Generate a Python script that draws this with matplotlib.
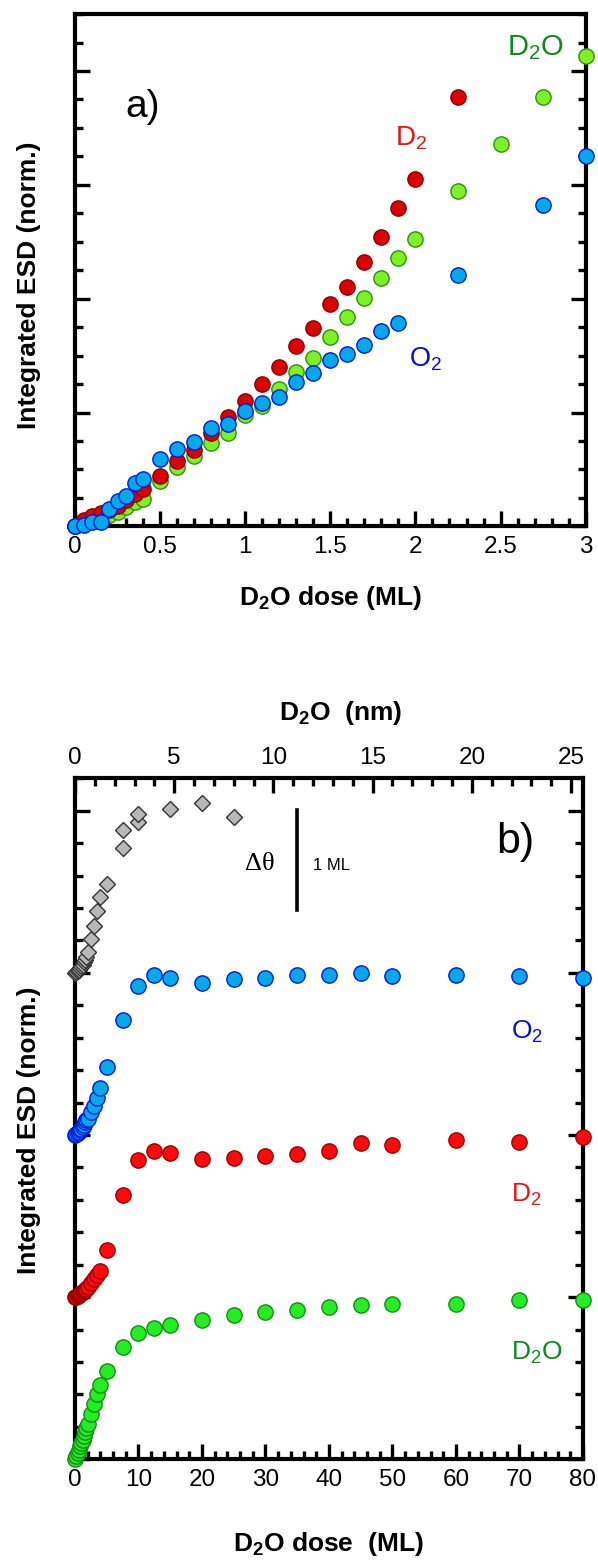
import matplotlib
matplotlib.use('Agg')
import matplotlib.pyplot as plt
from matplotlib.ticker import MultipleLocator, NullFormatter

plt.rcParams['font.family'] = ['Liberation Sans', 'DejaVu Sans']
plt.rcParams['mathtext.fontset'] = 'custom'
plt.rcParams['mathtext.rm'] = 'Liberation Sans'
plt.rcParams['mathtext.it'] = 'Liberation Sans:italic'
plt.rcParams['mathtext.bf'] = 'Liberation Sans:bold'

# ---- panel a: first 3 ML of D2O ----
early = [0, 0.05, 0.1, 0.15, 0.2, 0.25, 0.3, 0.35, 0.4,
         0.5, 0.6, 0.7, 0.8, 0.9, 1.0, 1.1, 1.2, 1.3, 1.4, 1.5, 1.6, 1.7, 1.8, 1.9]

dose_a_d2o = early + [2.0, 2.25, 2.5, 2.75, 3.0]
esd_a_d2o = [0.0, 0.02, 0.05, 0.07, 0.10, 0.13, 0.17, 0.21, 0.24,
             0.40, 0.52, 0.62, 0.73, 0.82, 0.98, 1.06, 1.21, 1.36, 1.48, 1.66, 1.84, 2.01, 2.18, 2.36,
             2.52, 2.95, 3.36, 3.77, 4.13]

dose_a_d2 = early + [2.0, 2.25]
esd_a_d2 = [0.0, 0.06, 0.09, 0.12, 0.14, 0.18, 0.23, 0.28, 0.33,
            0.44, 0.57, 0.67, 0.82, 0.96, 1.10, 1.25, 1.40, 1.58, 1.74, 1.95, 2.10, 2.32, 2.54, 2.80,
            3.05, 3.77]

dose_a_o2 = early + [2.25, 2.75, 3.0]
esd_a_o2 = [0.0, 0.01, 0.04, 0.04, 0.15, 0.22, 0.27, 0.38, 0.42,
            0.59, 0.68, 0.74, 0.86, 0.90, 1.01, 1.08, 1.14, 1.27, 1.35, 1.46, 1.51, 1.59, 1.72, 1.79,
            2.21, 2.82, 3.25]

# ---- panel b: up to 80 ML, curves offset by 1 ----
dose_b = [0, 0.2, 0.4, 0.6, 0.8, 1.0, 1.2, 1.4, 1.6, 1.8, 2.0, 2.5, 3.0, 3.5, 4.0,
          5, 7.5, 10, 12.5, 15, 20, 25, 30, 35, 40, 45, 50, 60, 70, 80]
esd_b_d2o = [0.0, 0.02, 0.04, 0.06, 0.08, 0.10, 0.12, 0.145, 0.17, 0.195, 0.22, 0.28, 0.34, 0.40, 0.46,
             0.545, 0.69, 0.78, 0.81, 0.83, 0.86, 0.89, 0.91, 0.92, 0.94, 0.95, 0.96, 0.955, 0.98, 0.98]
esd_b_d2 = [1.0, 1.003, 1.007, 1.012, 1.017, 1.023, 1.03, 1.037, 1.045, 1.053, 1.062, 1.085, 1.11, 1.135, 1.16,
            1.29, 1.63, 1.845, 1.90, 1.89, 1.855, 1.86, 1.87, 1.885, 1.90, 1.95, 1.94, 1.97, 1.96, 1.99]
esd_b_o2 = [2.0, 2.005, 2.01, 2.02, 2.03, 2.04, 2.05, 2.065, 2.08, 2.09, 2.10, 2.14, 2.18, 2.23, 2.29,
            2.42, 2.71, 2.92, 2.99, 2.97, 2.94, 2.96, 2.97, 2.99, 2.99, 3.00, 2.98, 2.99, 2.98, 2.97]

# coverage change (diamonds)
dose_b_theta = [0, 0.2, 0.4, 0.6, 0.8, 1.0, 1.2, 1.4, 1.6, 1.8, 2.0, 2.5, 3.0, 3.5, 4.0,
                5, 7.5, 7.5, 10, 10, 15, 20, 25]
theta_b = [3.0, 3.005, 3.01, 3.02, 3.03, 3.04, 3.05, 3.065, 3.08, 3.10, 3.13, 3.21, 3.29, 3.38, 3.47,
           3.55, 3.77, 3.88, 3.93, 3.98, 4.01, 4.05, 3.96]

ML_TO_NM = 0.32

fig = plt.figure(figsize=(5.98, 15.66), dpi=100)
ax_a = fig.add_axes([0.1254, 0.6639, 0.8540, 0.3271])
ax_b = fig.add_axes([0.1254, 0.0681, 0.8495, 0.4349])


def style_axes(ax):
    for s in ax.spines.values():
        s.set_linewidth(3)
    ax.tick_params(which='both', direction='in', width=2.4, labelsize=17.5, pad=7,
                   left=True, right=True, bottom=True, top=False)
    ax.tick_params(which='major', length=11)
    ax.tick_params(which='minor', length=6)
    ax.yaxis.set_major_formatter(NullFormatter())


def dots(ax, x, y, face, edge):
    ax.plot(x, y, 'o', ms=11, mfc=face, mec=edge, mew=1.0, ls='none',
            clip_on=False, zorder=3)


# panel a
style_axes(ax_a)
ax_a.set_xlim(0, 3)
ax_a.set_ylim(0, 4.5)
ax_a.xaxis.set_major_locator(MultipleLocator(0.5))
ax_a.xaxis.set_minor_locator(MultipleLocator(0.1))
ax_a.yaxis.set_major_locator(MultipleLocator(1))
ax_a.yaxis.set_minor_locator(MultipleLocator(0.25))
ax_a.set_xticks([0, 0.5, 1, 1.5, 2, 2.5, 3], ['0', '0.5', '1', '1.5', '2', '2.5', '3'])

dots(ax_a, dose_a_d2o, esd_a_d2o, '#7cf225', '#2f8f10')
dots(ax_a, dose_a_d2, esd_a_d2, '#dd0000', '#8a0000')
dots(ax_a, dose_a_o2, esd_a_o2, '#00aaea', '#0018dd')

ax_a.text(0.098, 0.7995, 'a)', transform=ax_a.transAxes, fontsize=28)
ax_a.text(0.845, 0.920, r'D$_2$O', transform=ax_a.transAxes, fontsize=21,
          color='#0a8c1c', va='baseline')
ax_a.text(0.6266, 0.7443, r'D$_2$', transform=ax_a.transAxes, fontsize=20,
          color='#ee1111', va='baseline')
ax_a.text(0.6546, 0.3129, r'O$_2$', transform=ax_a.transAxes, fontsize=19.5,
          color='#0010d0', va='baseline')

fig.text(0.5535, 0.6137, r'$\mathbf{D_2O}$ dose (ML)', ha='center', va='baseline',
         fontsize=19, fontweight='bold')
fig.text(0.0477, 0.818, 'Integrated ESD (norm.)', rotation=90, ha='center', va='center',
         fontsize=19, fontweight='bold')

# panel b
style_axes(ax_b)
ax_b.set_xlim(0, 80)
ax_b.set_ylim(0, 4.2)
ax_b.xaxis.set_major_locator(MultipleLocator(10))
ax_b.xaxis.set_minor_locator(MultipleLocator(2))
ax_b.yaxis.set_major_locator(MultipleLocator(1))
ax_b.yaxis.set_minor_locator(MultipleLocator(0.2))

# thickness scale on top
ax_t = ax_b.twiny()
ax_t.set_xlim(0, 80 * ML_TO_NM)
ax_t.xaxis.set_major_locator(MultipleLocator(5))
ax_t.xaxis.set_minor_locator(MultipleLocator(1))
for s in ax_t.spines.values():
    s.set_visible(False)
ax_t.tick_params(which='both', direction='in', width=2.4, labelsize=17.5, pad=7,
                 top=True, bottom=False, labeltop=True)
ax_t.tick_params(which='major', length=11)
ax_t.tick_params(which='minor', length=6)

dots(ax_b, dose_b, esd_b_d2o, '#22ee22', '#168a16')
dots(ax_b, dose_b, esd_b_d2, '#ff0a0a', '#9a0000')
dots(ax_b, dose_b, esd_b_o2, '#00aaea', '#0018dd')
ax_b.plot(dose_b_theta, theta_b, 'D', ms=8, mfc='#b8b8b8', mec='#333333', mew=1.0,
          ls='none', clip_on=False, zorder=3)

ax_b.text(0.830, 0.890, 'b)', transform=ax_b.transAxes, fontsize=31)
ax_b.text(0.8577, 0.6182, r'O$_2$', transform=ax_b.transAxes, fontsize=19,
          color='#0010d0', va='baseline')
ax_b.text(0.8577, 0.3783, r'D$_2$', transform=ax_b.transAxes, fontsize=19,
          color='#ee1111', va='baseline')
ax_b.text(0.8577, 0.1468, r'D$_2$O', transform=ax_b.transAxes, fontsize=19,
          color='#0a8c1c', va='baseline')

# 1 ML coverage scale bar
ax_b.plot([0.437, 0.437], [0.8066, 0.9535], color='black', lw=2.6,
          transform=ax_b.transAxes)
ax_b.text(0.3346, 0.8653, '\u0394\u03b8', transform=ax_b.transAxes, fontsize=19,
          family=['Liberation Serif', 'DejaVu Serif'], va='baseline')
ax_b.text(0.4685, 0.8653, '1 ML', transform=ax_b.transAxes, fontsize=12, va='baseline')

fig.text(0.569, 0.5402, r'$\mathbf{D_2O}$  (nm)', ha='center', va='baseline',
         fontsize=19, fontweight='bold')
fig.text(0.549, 0.0096, r'$\mathbf{D_2O}$ dose  (ML)', ha='center', va='baseline',
         fontsize=19, fontweight='bold')
fig.text(0.0477, 0.2784, 'Integrated ESD (norm.)', rotation=90, ha='center', va='center',
         fontsize=19, fontweight='bold')

fig.savefig('out.png', dpi=100)
